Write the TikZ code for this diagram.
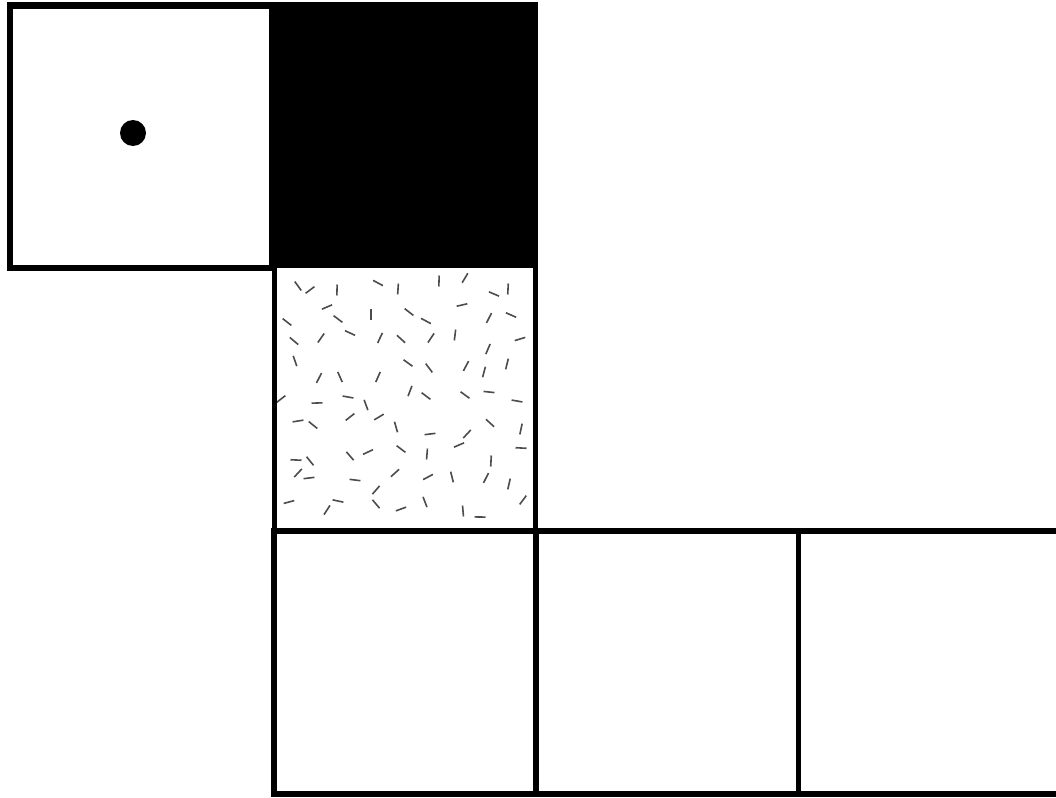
\documentclass[tikz,border=0pt]{standalone}
\usetikzlibrary{calc}
\begin{document}
\begin{tikzpicture}[x=1pt,y=-1pt,
  thick line/.style={line width=6.5pt, line cap=rect},
  mid line/.style={line width=5pt, line cap=rect},
  fleck/.style={line width=1.6pt, draw=black!70}]
\useasboundingbox (0,0) rectangle (1056,797);
% black square
\fill[black] (270,2) rectangle (538,268);
% textured flecks (jittered grid)
\pgfmathsetseed{1873}
\foreach \r in {0,...,8}{
  \foreach \c in {0,...,8}{
    \pgfmathsetmacro{\cx}{290+\c*28+random(-9,9)}
    \pgfmathsetmacro{\cy}{285+\r*28+random(-9,9)}
    \pgfmathsetmacro{\ang}{random(0,179)}
    \draw[fleck] ($(\cx,\cy)+(\ang:5.5)$) -- ($(\cx,\cy)+(\ang+180:5.5)$);
  }
}
% top-left square
\draw[thick line] (10,5.5) rectangle (272,268);
\fill (133,133) circle (13);
% textured square frame
\draw[mid line] (274,268) -- (274,531);
\draw[mid line] (535.5,268) -- (535.5,531);
% bottom row
\draw[thick line] (274,531) -- (1060,531);
\draw[thick line] (274,794) -- (1060,794);
\draw[thick line] (274,531) -- (274,794);
\draw[thick line] (536,531) -- (536,794);
\draw[mid line] (798,531) -- (798,794);
\end{tikzpicture}
\end{document}
